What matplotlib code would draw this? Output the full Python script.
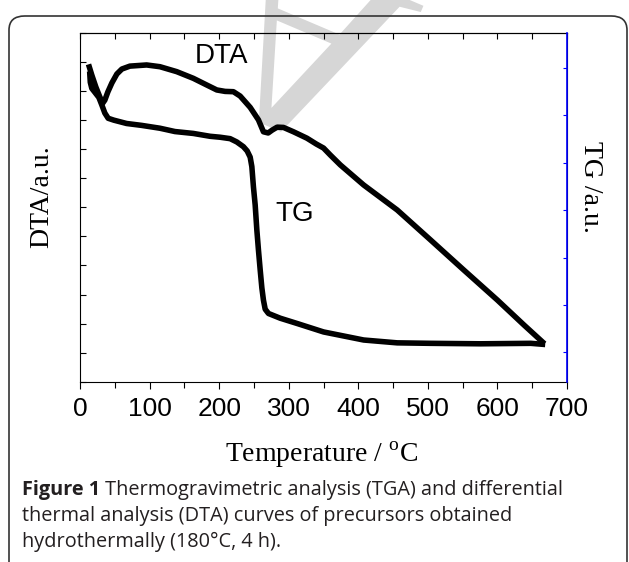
import matplotlib
matplotlib.use("Agg")
import matplotlib.pyplot as plt
from matplotlib.patches import FancyBboxPatch, PathPatch
from matplotlib.textpath import TextPath
from matplotlib.font_manager import FontProperties
from matplotlib.transforms import Affine2D
from matplotlib.ticker import MultipleLocator

# DTA curve (temperature in C, signal in a.u. on left axis 0..12)
dta_temp = [13.4, 17.0, 22.8, 28.5, 32.8, 35.7, 40.0, 45.8, 53.0, 60.2, 71.7, 95.8,
            114.9, 139.0, 162.9, 182.2, 196.6, 208.6, 220.5, 230.2, 244.6, 256.5,
            263.7, 270.5, 276.3, 283.4, 292.5, 306.9, 326.2, 339.6, 350.1, 359.8,
            374.2, 407.7, 455.9, 503.8, 551.8, 599.9, 638.2, 664.7]
dta_val = [10.83, 10.55, 10.14, 9.80, 9.59, 9.69, 9.97, 10.28, 10.59, 10.76, 10.86, 10.90,
           10.84, 10.67, 10.44, 10.21, 10.04, 9.99, 9.98, 9.83, 9.44, 9.01,
           8.60, 8.56, 8.66, 8.76, 8.75, 8.60, 8.38, 8.18, 8.04, 7.80,
           7.46, 6.77, 5.91, 4.88, 3.84, 2.81, 1.95, 1.37]

# TG curve (temperature in C, signal in a.u. on right axis)
tg_temp = [14.1, 14.8, 17.0, 21.3, 27.1, 31.4, 35.7, 40.5, 48.7, 67.0, 88.6, 114.9,
           136.5, 162.9, 186.9, 201.4, 215.8, 225.4, 234.9, 240.3, 244.6, 247.0,
           249.3, 251.8, 254.2, 256.5, 259.0, 261.4, 263.7, 266.2, 270.9, 287.8,
           311.8, 350.1, 407.7, 455.9, 503.8, 575.8, 647.9, 664.7]
tg_val = [5.87, 5.70, 5.57, 5.49, 5.38, 5.22, 5.05, 4.94, 4.90, 4.83, 4.79, 4.73,
          4.66, 4.62, 4.56, 4.54, 4.51, 4.44, 4.34, 4.25, 4.12, 3.92,
          3.49, 3.11, 2.58, 2.16, 1.74, 1.36, 1.10, 0.91, 0.82, 0.72,
          0.61, 0.43, 0.26, 0.20, 0.19, 0.18, 0.19, 0.17]

x_ticks = [0, 100, 200, 300, 400, 500, 600, 700]

plt.rcParams['font.family'] = ['Liberation Sans', 'DejaVu Sans']
plt.rcParams['mathtext.fontset'] = 'custom'
plt.rcParams['mathtext.rm'] = 'Liberation Serif'

fig = plt.figure(figsize=(6.29, 5.62), dpi=100)

# rounded frame around the figure
frame = FancyBboxPatch((9 / 629, -0.2), 618 / 629, 1.2 - 16 / 562,
                       boxstyle="round,pad=0,rounding_size=0.025",
                       transform=fig.transFigure, fill=False,
                       edgecolor='#333333', linewidth=1.2)
fig.patches.append(frame)

# faint watermark letter (mirrored serif A, apex down)
wm = TextPath((0, 0), 'A', size=260, prop=FontProperties(family='Liberation Serif'))
bb = wm.get_extents()
wm_tr = (Affine2D().translate(-(bb.x0 + bb.x1) / 2, -bb.y1)
         .scale(-1, 1).rotate_deg(157).translate(272, 562 - 128))
wm_patch = PathPatch(wm_tr.transform_path(wm), facecolor='#d6d6d6',
                     edgecolor='none', transform=None, zorder=-1)
fig.patches.append(wm_patch)

ax = fig.add_axes([80 / 629, 1 - 381.7 / 562, 487 / 629, 348.7 / 562])
ax.set_facecolor('none')
ax.plot(dta_temp, dta_val, color='black', linewidth=4.0, solid_joinstyle='round')
ax.set_xlim(0, 700)
ax.set_ylim(0, 12)
ax.set_xticks(x_ticks)
ax.xaxis.set_minor_locator(MultipleLocator(50))
ax.yaxis.set_major_locator(MultipleLocator(1))
ax.set_yticklabels([])
ax.tick_params(axis='x', which='major', direction='out', length=5, width=0.8,
               labelsize=19, pad=6)
ax.tick_params(axis='x', which='minor', direction='out', length=4, width=0.8)
ax.tick_params(axis='y', direction='in', length=4, width=0.8)
for s in ['left', 'bottom', 'top']:
    ax.spines[s].set_linewidth(0.8)

top = ax.secondary_xaxis('top')
top.xaxis.set_major_locator(MultipleLocator(50))
top.tick_params(direction='in', length=4, width=0.8, labeltop=False)
top.spines['top'].set_linewidth(0.8)

ax2 = ax.twinx()
ax2.plot(tg_temp, tg_val, color='black', linewidth=4.0, solid_joinstyle='round')
ax2.set_ylim(-0.62, 6.74)
ax2.yaxis.set_major_locator(MultipleLocator(1))
ax2.set_yticklabels([])
ax2.tick_params(axis='y', direction='in', length=3, width=0.8, colors='blue')
ax2.spines['right'].set_color('blue')
ax2.spines['right'].set_linewidth(1.2)
for s in ['left', 'bottom', 'top']:
    ax2.spines[s].set_visible(False)

ax.text(202.8, 11.2, 'DTA', fontsize=20, ha='center', va='center')
ax.text(309, 5.77, 'TG', fontsize=20, ha='center', va='center')

fig.text(42 / 629, 1 - 197 / 562, 'DTA/a.u.', family='Liberation Serif',
         fontsize=20, rotation=90, ha='center', va='center')
fig.text(590 / 629, 1 - 187 / 562, 'TG /a.u.', family='Liberation Serif',
         fontsize=20, rotation=270, ha='center', va='center')
fig.text(322 / 629, 1 - 455 / 562, r'Temperature / $^{\mathrm{o}}$C',
         family='Liberation Serif', fontsize=20, ha='center', va='center')

# caption
cap_color = '#231f20'
cap_font = ['Open Sans', 'DejaVu Sans']
cap_size = 14.3
t1 = fig.text(22 / 629, 1 - 490 / 562, 'Figure 1', fontsize=cap_size, weight='bold',
              family=cap_font, color=cap_color, va='center')
ax.annotate(' Thermogravimetric analysis (TGA) and differential', xy=(1, 0),
            xycoords=t1, va='bottom', ha='left', fontsize=cap_size,
            family=cap_font, color=cap_color, annotation_clip=False)
fig.text(22 / 629, 1 - 516 / 562,
         'thermal analysis (DTA) curves of precursors obtained',
         fontsize=cap_size, family=cap_font, color=cap_color, va='center')
fig.text(22 / 629, 1 - 542 / 562, 'hydrothermally (180\u00b0C, 4 h).',
         fontsize=cap_size, family=cap_font, color=cap_color, va='center')

fig.savefig('out.png', dpi=100)
